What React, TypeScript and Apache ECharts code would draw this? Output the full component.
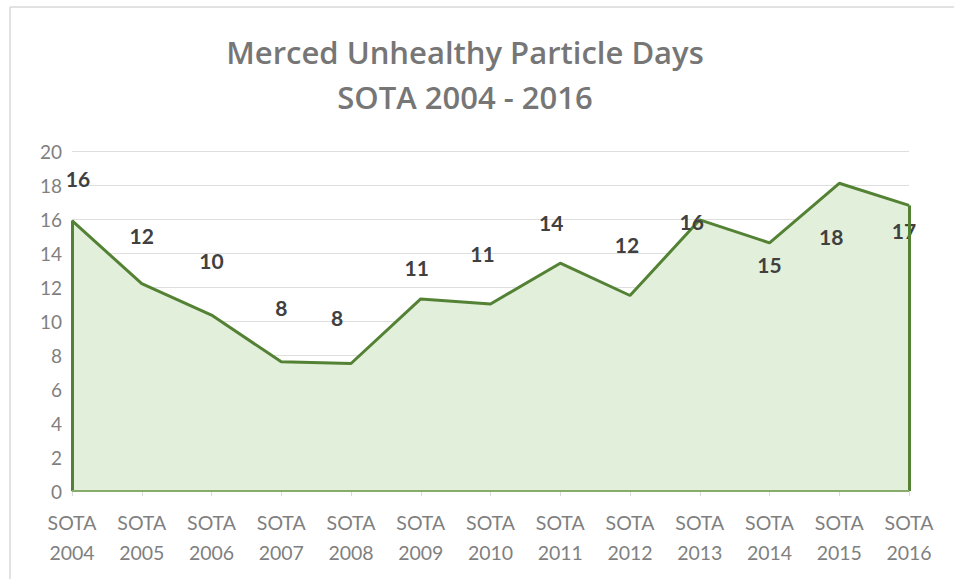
import React, { useEffect, useRef } from "react";
import * as echarts from "echarts";

const titleLines = ["Merced Unhealthy Particle Days", "SOTA 2004 - 2016"];
const categories = [
  "SOTA\n2004", "SOTA\n2005", "SOTA\n2006", "SOTA\n2007", "SOTA\n2008", "SOTA\n2009", "SOTA\n2010",
  "SOTA\n2011", "SOTA\n2012", "SOTA\n2013", "SOTA\n2014", "SOTA\n2015", "SOTA\n2016",
];
const values = [15.9, 12.2, 10.35, 7.6, 7.5, 11.3, 11.0, 13.4, 11.5, 15.95, 14.6, 18.1, 16.8];
const labels = ["16", "12", "10", "8", "8", "11", "11", "14", "12", "16", "15", "18", "17"];
// label placement offsets (style only)
const labelOffsets: [number, number][] = [
  [6, -42], [0, -48], [0, -55], [0, -54], [-14, -46], [-4, -31], [-8, -51],
  [-9, -41], [-3, -51], [-8, 2], [0, 22], [-8, 53], [-5, 25],
];
const yMin = 0;
const yMax = 20;
const yInterval = 2;

const LINE = "#548235";
const FILL = "#e2efda";

export default function App() {
  const ref = useRef<HTMLDivElement>(null);
  useEffect(() => {
    if (!ref.current) return;
    const chart = echarts.init(ref.current, undefined, { renderer: "svg" });
    const last = categories.length - 1;
    chart.setOption({
      animation: false,
      backgroundColor: "#ffffff",
      textStyle: { fontFamily: "Lato" },
      title: {
        text: titleLines.join("\n"),
        left: 460,
        top: 24,
        textAlign: "center",
        textStyle: {
          fontFamily: "Open Sans",
          fontSize: 31,
          fontWeight: 600,
          color: "#767676",
          lineHeight: 45,
        },
      },
      graphic: [
        { type: "line", shape: { x1: 10, y1: 7, x2: 954, y2: 7 }, style: { stroke: "#d9d9d9", lineWidth: 1.5 } },
        { type: "line", shape: { x1: 10, y1: 7, x2: 10, y2: 579 }, style: { stroke: "#d9d9d9", lineWidth: 1.5 } },
      ],
      grid: { left: 72, right: 45, top: 151, bottom: 88, containLabel: false },
      xAxis: {
        type: "category",
        data: categories,
        boundaryGap: false,
        axisLine: { lineStyle: { color: "#d9d9d9", width: 1 } },
        axisTick: { show: true, alignWithLabel: true, length: 5, lineStyle: { color: "#d9d9d9" } },
        axisLabel: {
          color: "#7f7f7f",
          fontSize: 19.5,
          lineHeight: 30,
          margin: 16,
          interval: 0,
          fontFamily: "Lato",
        },
        splitLine: { show: false },
      },
      yAxis: {
        type: "value",
        min: yMin,
        max: yMax,
        interval: yInterval,
        axisLine: { show: false },
        axisTick: { show: false },
        axisLabel: { color: "#7f7f7f", fontSize: 19, margin: 10, fontFamily: "Lato" },
        splitLine: { lineStyle: { color: "#dedede", width: 1.2 } },
      },
      series: [
        {
          type: "line",
          data: values.map((v, i) => ({
            value: v,
            label: { formatter: labels[i], offset: labelOffsets[i] },
          })),
          showSymbol: true,
          symbol: "circle",
          symbolSize: 1,
          itemStyle: { color: LINE },
          lineStyle: { color: LINE, width: 3 },
          areaStyle: { color: FILL, opacity: 1 },
          label: {
            show: true,
            position: "inside",
            fontFamily: "Lato",
            fontWeight: "bold",
            fontSize: 21,
            color: "#404040",
          },
          markLine: {
            silent: true,
            symbol: "none",
            label: { show: false },
            data: [
              [
                { coord: [categories[0], yMin], lineStyle: { color: LINE, width: 3, type: "solid" } },
                { coord: [categories[0], values[0]] },
              ],
              [
                { coord: [categories[last], yMin], lineStyle: { color: LINE, width: 3, type: "solid" } },
                { coord: [categories[last], values[last]] },
              ],
              [
                { coord: [categories[0], yMin], lineStyle: { color: "#86ab6b", width: 2, type: "solid" } },
                { coord: [categories[last], yMin] },
              ],
            ],
          },
        },
      ],
    });
    return () => chart.dispose();
  }, []);
  return (
    <div
      ref={ref}
      style={{ position: "fixed", left: 0, top: 0, width: 954, height: 579 }}
    />
  );
}
